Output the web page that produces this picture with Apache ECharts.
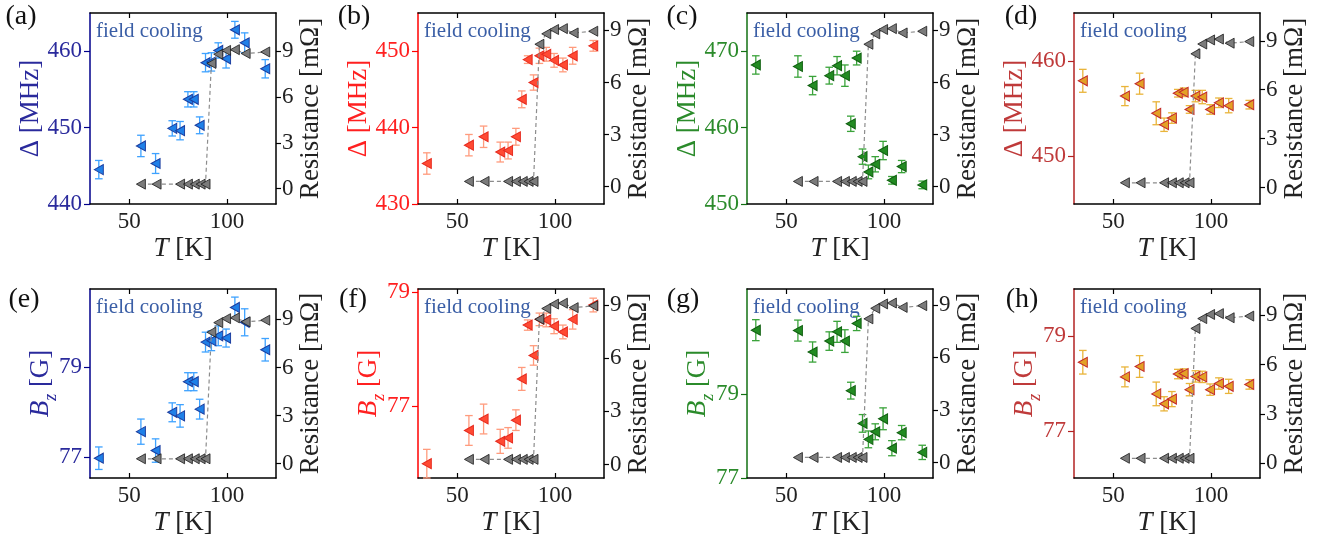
<!DOCTYPE html>
<html>
<head>
<meta charset="utf-8">
<script src="https://cdn.jsdelivr.net/npm/echarts@6/dist/echarts.min.js"></script>
<style>html,body{margin:0;background:#fff}#chart{width:1326px;height:546px}</style>
</head>
<body>
<div id="chart"></div>
<script>
// temperatures of the muon points (K)
const temps = [34.5, 56, 63.5, 72, 76, 80, 83, 86, 89, 92, 95.5, 99.5, 104, 109, 119.5];
// resistance curve (mOhm)
const tempR = [56, 64, 76, 80, 83.5, 86.5, 89, 92, 95.5, 99.5, 104, 109.5, 119.5];
const resistance = [0.3, 0.3, 0.3, 0.3, 0.3, 0.3, 0.3, 8.2, 8.8, 9.05, 9.1, 8.85, 8.95];

// Delta [MHz]
const deltaA = [444.5, 447.6, 445.3, 449.9, 449.6, 453.7, 453.7, 450.3, 458.5, 458.6, 460.1, 459.0, 462.8, 461.1, 457.7];
const errA = [1.2, 1.4, 1.3, 1.0, 1.2, 1.0, 1.0, 1.1, 1.2, 1.2, 1.0, 1.2, 1.1, 1.3, 1.2];
const deltaB = [435.3, 437.7, 438.8, 436.8, 437.0, 438.8, 443.7, 448.9, 445.9, 449.4, 449.6, 448.8, 448.2, 449.4, 450.7];
const errB = [1.4, 1.4, 1.4, 1.3, 1.1, 1.1, 1.1, 0.5, 1.0, 1.0, 0.9, 0.9, 0.9, 1.1, 0.7];
const deltaC = [468.2, 468.0, 465.5, 466.8, 468.1, 466.8, 460.5, 469.1, 456.2, 454.2, 455.2, 457.0, 453.1, 454.9, 452.5];
const errC = [1.2, 1.4, 1.2, 1.1, 1.2, 1.4, 1.0, 0.9, 1.0, 0.9, 1.0, 1.2, 0.5, 0.8, 0.5];
const deltaD = [457.9, 456.3, 457.6, 454.5, 453.3, 454.0, 456.6, 456.7, 454.9, 456.3, 456.2, 454.9, 455.6, 455.3, 455.4];
const errD = [1.2, 1.0, 1.1, 1.2, 0.7, 0.55, 0.4, 0.45, 0.4, 0.6, 0.7, 0.5, 0.5, 0.75, 0.45];

// Bz [G]
const bzE = [76.98, 77.57, 77.15, 78.0, 77.92, 78.68, 78.68, 78.07, 79.56, 79.59, 79.7, 79.65, 80.33, 80.0, 79.39];
const errE = [0.25, 0.28, 0.26, 0.21, 0.25, 0.2, 0.2, 0.22, 0.22, 0.22, 0.22, 0.2, 0.23, 0.3, 0.25];
const bzF = [76.0, 76.58, 76.78, 76.39, 76.45, 76.76, 77.48, 78.42, 77.89, 78.52, 78.51, 78.4, 78.3, 78.52, 78.77];
const errF = [0.25, 0.26, 0.26, 0.21, 0.18, 0.18, 0.2, 0.09, 0.17, 0.11, 0.12, 0.13, 0.12, 0.17, 0.12];
const bzG = [80.52, 80.51, 80.0, 80.26, 80.48, 80.26, 79.08, 80.68, 78.3, 77.92, 78.1, 78.41, 77.71, 78.08, 77.61];
const errG = [0.25, 0.25, 0.24, 0.22, 0.25, 0.27, 0.2, 0.17, 0.21, 0.2, 0.19, 0.26, 0.18, 0.17, 0.17];
const bzH = [78.45, 78.14, 78.36, 77.78, 77.57, 77.67, 78.2, 78.21, 77.87, 78.15, 78.14, 77.87, 78.0, 77.94, 77.98];
const errH = [0.25, 0.21, 0.23, 0.25, 0.15, 0.16, 0.1, 0.1, 0.13, 0.12, 0.12, 0.12, 0.12, 0.15, 0.1];

const tTicks = [50, 100];
const rTicks = [0, 3, 6, 9];

const FONT = '"Liberation Serif", "DejaVu Serif", serif';
const TRI = 'path://M0,5L9,0L9,10Z';

const palette = {
  blue:  {axis: '#00008b', text: '#2a2a9c', fill: '#1f80e8', edge: '#1b3c9e', err: '#3ea2ff'},
  red:   {axis: '#ff0000', text: '#ff2020', fill: '#ff4a33', edge: '#e62a1e', err: '#ff9b7d'},
  green: {axis: '#137013', text: '#2b8b2b', fill: '#228b22', edge: '#0f5f0f', err: '#3aa33a'},
  brown: {axis: '#b22222', text: '#bf3a3a', fill: '#e3a126', edge: '#c2282a', err: '#e9b43a'}
};

const cols = [90, 418, 747, 1074];
const rows = [{top: 13, h: 191}, {top: 289, h: 189}];

const panels = [
  {tag: '(a)', c: 0, r: 0, vals: deltaA, errs: errA, col: 'blue', y: [440, 465], yt: [440, 450, 460], rr: [-1, 11.5], lx: 21},
  {tag: '(b)', c: 1, r: 0, vals: deltaB, errs: errB, col: 'red', y: [430, 455], yt: [430, 440, 450], rr: [-1, 10], lx: 354},
  {tag: '(c)', c: 2, r: 0, vals: deltaC, errs: errC, col: 'green', y: [450, 475], yt: [450, 460, 470], rr: [-1, 10], lx: 682},
  {tag: '(d)', c: 3, r: 0, vals: deltaD, errs: errD, col: 'brown', y: [445, 465], yt: [450, 460], rr: [-1, 10.7], lx: 1021},
  {tag: '(e)', c: 0, r: 1, vals: bzE, errs: errE, col: 'blue', y: [76.54, 80.74], yt: [77, 79], rr: [-0.9, 10.9], lx: 24},
  {tag: '(f)', c: 1, r: 1, vals: bzF, errs: errF, col: 'red', y: [75.75, 79.05], yt: [77, 79], rr: [-0.75, 9.9], lx: 353},
  {tag: '(g)', c: 2, r: 1, vals: bzG, errs: errG, col: 'green', y: [77, 81.5], yt: [77, 79], rr: [-0.87, 9.9], lx: 683},
  {tag: '(h)', c: 3, r: 1, vals: bzH, errs: errH, col: 'brown', y: [76, 80], yt: [77, 79], rr: [-0.9, 10.6], lx: 1022}
];

const grid = [], xAxis = [], yAxis = [], series = [], graphic = [];

panels.forEach((p, i) => {
  const pal = palette[p.col];
  const row = rows[p.r];
  grid.push({left: cols[p.c], top: row.top, width: 186, height: row.h, containLabel: false, outerBoundsMode: 'none'});

  // bottom T axis
  xAxis.push({
    type: 'value', gridIndex: i, min: 30, max: 125, position: 'bottom',
    axisLine: {show: true, onZero: false, lineStyle: {color: '#000', width: 1.5}},
    axisTick: {show: true, inside: true, length: 5, customValues: tTicks, lineStyle: {color: '#000', width: 1.2}},
    axisLabel: {customValues: tTicks, margin: 6, fontSize: 23, fontFamily: FONT, color: '#222'},
    splitLine: {show: false},
    name: '{i|T} [K]', nameLocation: 'middle', nameGap: 31, nameMoveOverlap: false,
    nameTextStyle: {fontSize: 27, fontFamily: FONT, color: '#222',
      rich: {i: {fontSize: 27, fontFamily: FONT, fontStyle: 'italic', color: '#222'}}}
  });
  // top mirror axis
  xAxis.push({
    type: 'value', gridIndex: i, min: 30, max: 125, position: 'top',
    axisLine: {show: true, onZero: false, lineStyle: {color: '#000', width: 1.5}},
    axisTick: {show: true, inside: true, length: 5, customValues: tTicks, lineStyle: {color: '#000', width: 1.2}},
    axisLabel: {show: false},
    splitLine: {show: false}
  });

  const leftName = p.r === 0 ? '{d|Δ [MHz]}' : '{b|B}{s|z}{n| [G]}';
  yAxis.push({
    type: 'value', gridIndex: i, min: p.y[0], max: p.y[1], position: 'left',
    axisLine: {show: true, onZero: false, lineStyle: {color: pal.axis, width: 1.5}},
    axisTick: {show: true, length: 6, customValues: p.yt, lineStyle: {color: pal.axis, width: 1.2}},
    axisLabel: {customValues: p.yt, margin: 8, fontSize: 23, fontFamily: FONT, color: pal.text},
    splitLine: {show: false},
    name: leftName, nameLocation: 'middle', nameRotate: 90, nameGap: p.r === 0 ? 46 : 30, nameMoveOverlap: false,
    nameTextStyle: {fontSize: 27, fontFamily: FONT, color: pal.text,
      rich: {
        d: {fontSize: 27, fontFamily: FONT, color: pal.text},
        b: {fontSize: 27, fontFamily: FONT, fontStyle: 'italic', color: pal.text, verticalAlign: 'bottom', padding: [0, 0, 6, 0]},
        s: {fontSize: 18, fontFamily: FONT, fontStyle: 'italic', color: pal.text, verticalAlign: 'bottom'},
        n: {fontSize: 27, fontFamily: FONT, color: pal.text, verticalAlign: 'bottom', padding: [0, 0, 6, 0]}
      }}
  });
  yAxis.push({
    type: 'value', gridIndex: i, min: p.rr[0], max: p.rr[1], position: 'right',
    axisLine: {show: true, onZero: false, lineStyle: {color: '#000', width: 1.5}},
    axisTick: {show: true, length: 5, customValues: rTicks, lineStyle: {color: '#000', width: 1.2}},
    axisLabel: {customValues: rTicks, margin: 6, fontSize: 23, fontFamily: FONT, color: '#222'},
    splitLine: {show: false},
    name: 'Resistance [mΩ]', nameLocation: 'middle', nameRotate: 90, nameGap: 21, nameMoveOverlap: false,
    nameTextStyle: {fontSize: 27, fontFamily: FONT, color: '#222'}
  });

  const pts = temps.map((t, k) => [t, p.vals[k], p.errs[k]]);
  series.push({
    type: 'custom', xAxisIndex: 2 * i, yAxisIndex: 2 * i, z: 2,
    data: pts, encode: {x: 0, y: 1},
    renderItem: (params, api) => {
      const x = api.value(0), y = api.value(1), e = api.value(2);
      const hi = api.coord([x, y + e]);
      const lo = api.coord([x, y - e]);
      const w = 3.8;
      const st = {stroke: pal.err, lineWidth: 1.3};
      return {type: 'group', children: [
        {type: 'line', shape: {x1: hi[0], y1: hi[1], x2: lo[0], y2: lo[1]}, style: st},
        {type: 'line', shape: {x1: hi[0] - w, y1: hi[1], x2: hi[0] + w, y2: hi[1]}, style: st},
        {type: 'line', shape: {x1: lo[0] - w, y1: lo[1], x2: lo[0] + w, y2: lo[1]}, style: st}
      ]};
    }
  });
  series.push({
    type: 'scatter', xAxisIndex: 2 * i, yAxisIndex: 2 * i, z: 3,
    data: pts.map(d => [d[0], d[1]]),
    symbol: TRI, symbolSize: [9, 10],
    itemStyle: {color: pal.fill, borderColor: pal.edge, borderWidth: 1, opacity: 1}
  });
  series.push({
    type: 'line', xAxisIndex: 2 * i, yAxisIndex: 2 * i + 1, z: 4,
    data: tempR.map((t, k) => [t, resistance[k]]),
    symbol: TRI, symbolSize: [9, 10], showSymbol: true,
    itemStyle: {color: '#7b7b7b', borderColor: '#1a1a1a', borderWidth: 0.8},
    lineStyle: {color: '#8c8c8c', width: 1.2, type: [4, 3]}
  });

  graphic.push({type: 'text', x: p.lx, y: row.top + (p.r === 0 ? 4 : 11),
    style: {text: p.tag, fill: '#111', font: '28px ' + FONT, align: 'center', verticalAlign: 'middle'}});
  graphic.push({type: 'text', x: cols[p.c] + 6, y: row.top + 18,
    style: {text: 'field cooling', fill: '#3a5ea6', font: '21px ' + FONT, align: 'left', verticalAlign: 'middle'}});
});

const chart = echarts.init(document.getElementById('chart'));
chart.setOption({
  animation: false,
  backgroundColor: '#fff',
  grid, xAxis, yAxis, series, graphic
});
</script>
</body>
</html>
